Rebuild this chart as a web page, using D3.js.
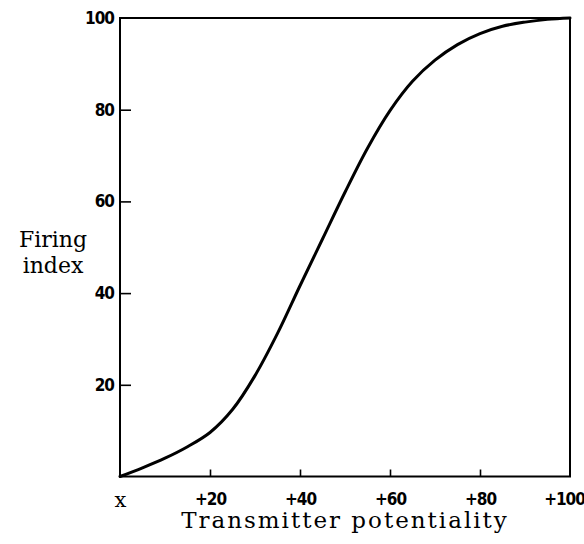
<!DOCTYPE html>
<html>
<head>
<meta charset="utf-8">
<script src="https://cdn.jsdelivr.net/npm/d3@7"></script>
<style>
  body { margin: 0; background: #fff; }
  text { fill: #000; }
</style>
</head>
<body>
<div id="chart"></div>
<script>
// curve
const potentiality = [0, 5, 10, 15, 20, 25, 30, 35, 40, 45, 50, 55, 60, 65, 70, 75, 80, 85, 90, 95, 100];
const firingIndex  = [0, 1.9, 4.0, 6.5, 9.6, 14.6, 22.0, 31.2, 41.6, 51.8, 62.0, 71.6, 79.8, 86.2, 90.8, 94.2, 96.6, 98.2, 99.1, 99.7, 100];
const xTicks = [0, 20, 40, 60, 80, 100];
const xTickLabels = ["x", "+20", "+40", "+60", "+80", "+100"];
const yTicks = [20, 40, 60, 80, 100];

const w = 584, h = 544;
const padLeft = 120, padRight = 570, padTop = 18, padBottom = 476.5;

const svg = d3.select("#chart")
    .append("svg")
    .attr("width", w)
    .attr("height", h);

const xScale = d3.scaleLinear().domain([0, 100]).range([padLeft, padRight]);
const yScale = d3.scaleLinear().domain([0, 100]).range([padBottom, padTop]);

// frame
svg.append("rect")
    .attr("x", padLeft)
    .attr("y", padTop)
    .attr("width", padRight - padLeft)
    .attr("height", padBottom - padTop)
    .attr("fill", "none")
    .attr("stroke", "#000")
    .attr("stroke-width", 2);

// axes (ticks pointing inward)
const xAxis = d3.axisBottom(xScale)
    .tickValues(xTicks)
    .tickSizeInner(-7)
    .tickSizeOuter(0)
    .tickPadding(16)
    .tickFormat((d, i) => xTickLabels[i]);

const yAxis = d3.axisLeft(yScale)
    .tickValues(yTicks)
    .tickSizeInner(-11)
    .tickSizeOuter(0)
    .tickPadding(6)
    .tickFormat(d3.format("d"));

const gx = svg.append("g")
    .attr("transform", "translate(0," + padBottom + ")")
    .call(xAxis);

const gy = svg.append("g")
    .attr("transform", "translate(" + padLeft + ",0)")
    .call(yAxis);

[gx, gy].forEach(g => {
    g.select(".domain").remove();
    g.selectAll(".tick line").attr("stroke", "#000").attr("stroke-width", 1.6);
    g.selectAll(".tick text")
        .style("font-family", "'DejaVu Sans Condensed', 'DejaVu Sans', sans-serif")
        .style("font-size", "17px")
        .style("font-weight", "bold")
        .style("letter-spacing", "-1px");
});
// no tick marks at the frame corners
gx.selectAll(".tick").filter(d => d === 0 || d === 100).select("line").remove();
gy.selectAll(".tick").filter(d => d === 100).select("line").remove();
gx.selectAll(".tick text").filter(d => d === 0)
    .style("font-family", "'DejaVu Serif', serif")
    .style("font-weight", "normal")
    .style("font-size", "21px")
    .style("letter-spacing", "0px");
// last label sits at the window edge in the reference
gx.selectAll(".tick text").filter(d => d === 100).attr("dx", -6);

// the curve
const pts = potentiality.map((p, i) => [p, firingIndex[i]]);
svg.append("path")
    .datum(pts)
    .attr("fill", "none")
    .attr("stroke", "#000")
    .attr("stroke-width", 3)
    .attr("stroke-linecap", "round")
    .attr("d", d3.line()
        .x(d => xScale(d[0]))
        .y(d => yScale(d[1]))
        .curve(d3.curveCatmullRom.alpha(0.5)));

// axis titles
svg.append("text")
    .attr("x", 345)
    .attr("y", 528)
    .style("text-anchor", "middle")
    .style("font-family", "'DejaVu Serif', serif")
    .style("font-size", "23px")
    .style("letter-spacing", "2px")
    .text("Transmitter potentiality");

const yTitle = svg.append("text")
    .style("text-anchor", "middle")
    .style("font-family", "'DejaVu Serif', serif")
    .style("font-size", "22px");
yTitle.append("tspan").attr("x", 53).attr("y", 247).text("Firing");
yTitle.append("tspan").attr("x", 53).attr("y", 273).text("index");
</script>
</body>
</html>
